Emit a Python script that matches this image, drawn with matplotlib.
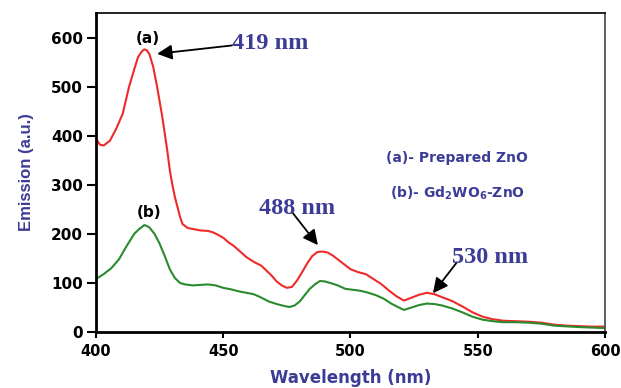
import matplotlib
matplotlib.use("Agg")
import matplotlib.pyplot as plt

# (a) prepared ZnO
wl_a = [400, 401.5, 403, 405.5, 408, 410.5, 413, 415, 416.5, 418, 419, 420, 421, 422.5,
        424, 426, 428, 429, 430, 431, 432, 433, 434, 436, 438, 441, 444, 446, 448, 450,
        452, 454, 456, 459, 462, 465, 467, 469, 471, 473, 475, 477, 479, 481, 483, 485,
        487, 489, 491, 493, 495, 497, 500, 503, 506, 509, 512, 515, 518, 521, 524, 527,
        530, 533, 536, 540, 544, 548, 552, 556, 560, 565, 570, 575, 580, 585, 590, 595, 600]
em_a = [394, 382, 380, 390, 415, 445, 500, 535, 560, 572, 576, 574, 566, 540,
        500, 440, 370, 330, 300, 275, 255, 235, 220, 212, 210, 207, 206, 203, 198, 192,
        183, 176, 167, 153, 143, 135, 125, 115, 103, 95, 90, 92, 105, 122, 140, 155,
        163, 164, 162, 156, 148, 140, 128, 122, 118, 108, 98, 85, 73, 64, 70, 76,
        80, 77, 71, 63, 52, 40, 31, 26, 23, 22, 21, 19, 15, 13, 12, 11, 11]

# (b) Gd2WO6-ZnO
wl_b = [400, 403, 406, 409, 412, 415, 417, 419, 420, 421, 423, 425, 427, 429, 431, 433,
        435, 438, 441, 444, 447, 450, 453, 456, 459, 462, 465, 468, 471, 474, 476, 478,
        480, 482, 484, 486, 488, 490, 492, 495, 498, 501, 504, 507, 510, 513, 516, 519,
        521, 524, 527, 530, 533, 536, 540, 544, 548, 552, 556, 560, 565, 570, 575, 580,
        590, 600]
em_b = [108, 118, 130, 148, 175, 200, 210, 218, 216, 213, 200, 180, 155, 128, 110, 100,
        97, 95, 96, 97, 95, 90, 87, 83, 80, 77, 70, 62, 57, 53, 51, 54,
        62, 75, 88, 97, 104, 103, 100, 95, 88, 86, 84, 80, 75, 68, 58, 50,
        45, 50, 55, 58, 57, 54, 48, 40, 31, 25, 22, 20, 20, 19, 17, 13,
        10, 8]

peaks = [419, 488, 530]

navy = '#3c3c96'
bold = 'DejaVu Sans'
arial = 'Liberation Sans'
serif = 'Liberation Serif'

fig = plt.figure(figsize=(6.21, 3.88), dpi=100)
ax = fig.add_axes([0.1546, 0.1443, 0.8196, 0.822])

ax.plot(wl_a, em_a, color='#ee2a2a', lw=1.5)
ax.plot(wl_b, em_b, color='#2a8a2e', lw=1.5)

ax.set_xlim(400, 600)
ax.set_ylim(0, 650)
ax.set_xticks([400, 450, 500, 550, 600])
ax.set_yticks([0, 100, 200, 300, 400, 500, 600])

for lbl in ax.get_yticklabels():
    lbl.set_fontfamily(bold)
    lbl.set_fontweight('bold')
    lbl.set_fontsize(11)
for lbl in ax.get_xticklabels():
    lbl.set_fontfamily(bold)
    lbl.set_fontweight('bold')
    lbl.set_fontsize(10.5)
ax.tick_params(axis='y', direction='out', length=6.5, width=1.5, colors='black', pad=3)
ax.tick_params(axis='x', direction='out', length=4.5, width=1.5, colors='black', pad=4)

ax.spines['left'].set_linewidth(2)
ax.spines['bottom'].set_linewidth(2)
ax.spines['top'].set_linewidth(1.2)
ax.spines['right'].set_linewidth(1.2)
ax.spines['right'].set_color('#444444')

ax.set_xlabel('Wavelength (nm)', fontfamily=bold, fontweight='bold', fontsize=12,
              color=navy, labelpad=7)
ax.set_ylabel('Emission (a.u.)', fontfamily=arial, fontweight='bold', fontsize=12,
              color=navy, labelpad=12)

# curve labels
ax.text(420.4, 598, '(a)', ha='center', va='center', fontfamily=bold,
        fontweight='bold', fontsize=11)
ax.text(421, 244, '(b)', ha='center', va='center', fontfamily=bold,
        fontweight='bold', fontsize=11)

# peak annotations
arrow = dict(arrowstyle='-|>,head_length=0.9,head_width=0.45', color='black',
             lw=1.3, shrinkA=0, shrinkB=0)
note = dict(fontfamily=serif, fontweight='bold', fontsize=17.5, color=navy)
ax.annotate('', xy=(424, 567), xytext=(453.4, 584), arrowprops=arrow)
ax.text(453.4, 588, f'{peaks[0]} nm', ha='left', va='center', **note)
ax.annotate('', xy=(487.2, 177), xytext=(477.4, 242), arrowprops=arrow)
ax.text(479, 252, f'{peaks[1]} nm', ha='center', va='center', **note)
ax.annotate('', xy=(532.4, 79), xytext=(541.8, 142), arrowprops=arrow)
ax.text(555, 152, f'{peaks[2]} nm', ha='center', va='center', **note)

# sample key
ax.text(542, 354, '(a)- Prepared ZnO', ha='center', va='center', fontfamily=bold,
        fontweight='bold', fontsize=10, color=navy)
ax.text(542, 283, r'(b)- Gd$_\mathbf{2}$WO$_\mathbf{6}$-ZnO', ha='center', va='center',
        fontfamily=bold, fontweight='bold', fontsize=10, color=navy)

fig.savefig('out.png', dpi=100)
